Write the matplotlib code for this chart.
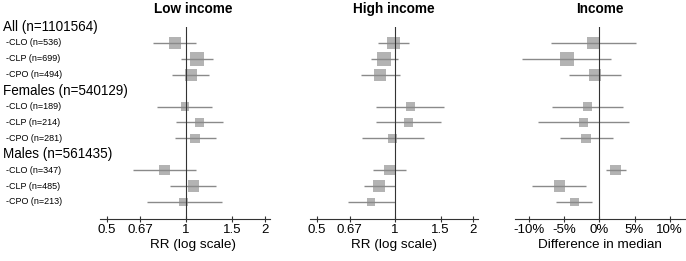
import numpy as np
import matplotlib
matplotlib.use("Agg")
from matplotlib import pyplot as plt
from matplotlib import transforms
from matplotlib.ticker import FixedLocator, FixedFormatter, NullLocator

plt.rcParams['font.family'] = ['Liberation Sans', 'DejaVu Sans']

# groups and subtypes
groups = ["All", "Females", "Males"]
group_n = [1101564, 540129, 561435]
subtypes = ["CLO", "CLP", "CPO"]
sub_n = [536, 699, 494, 189, 214, 281, 347, 485, 213]

# low income RR with CI
low_rr = [0.91, 1.10, 1.045, 0.99, 1.13, 1.085, 0.83, 1.07, 0.98]
low_lo = [0.75, 0.96, 0.89, 0.78, 0.92, 0.91, 0.63, 0.87, 0.71]
low_hi = [1.09, 1.27, 1.23, 1.26, 1.39, 1.30, 1.095, 1.30, 1.37]

# high income RR with CI
high_rr = [0.99, 0.91, 0.88, 1.15, 1.13, 0.98, 0.955, 0.87, 0.81]
high_lo = [0.865, 0.81, 0.74, 0.845, 0.85, 0.75, 0.825, 0.76, 0.66]
high_hi = [1.13, 1.03, 1.045, 1.55, 1.51, 1.29, 1.105, 1.0, 1.005]

# income, difference in median (%)
inc_d = [-0.9, -4.6, -0.7, -1.7, -2.3, -1.9, 2.3, -5.7, -3.6]
inc_lo = [-6.9, -11.0, -4.4, -6.8, -8.8, -5.7, 0.9, -9.6, -6.2]
inc_hi = [5.2, 1.7, 3.0, 3.4, 4.2, 2.0, 3.8, -1.9, -1.0]

rr_ticks = [0.5, 0.67, 1, 1.5, 2]
rr_ticklabels = ["0.5", "0.67", "1", "1.5", "2"]
pct_ticks = [-10, -5, 0, 5, 10]

W, H = 686, 261
fig = plt.figure(figsize=(W / 100, H / 100), dpi=100)

# row positions: header then three subtypes per group
header_rows = [i * 4 for i in range(len(groups))]
sub_rows = [g * 4 + k + 1 for g in range(len(groups)) for k in range(len(subtypes))]

top_px, bot_px = 27, 219
def make_ax(left_px, right_px):
    return fig.add_axes([left_px / W, 1 - bot_px / H,
                         (right_px - left_px) / W, (bot_px - top_px) / H])

ax1 = make_ax(100, 270)
ax2 = make_ax(310, 478)
ax3 = make_ax(515, 685)

sizes = [(0.72 * n ** 0.4) ** 2 for n in sub_n]
line_col = "#8a8a8a"
sq_col = "#b3b3b3"
axis_col = "#333333"

panels = [
    (ax1, low_rr, low_lo, low_hi, "Low income", "RR (log scale)", 0.547, 1),
    (ax2, high_rr, high_lo, high_hi, "High income", "RR (log scale)", 0.5, 1),
    (ax3, inc_d, inc_lo, inc_hi, "Income", "Difference in median", 0.5, 0),
]

for ax, est, lo, hi, title, xlabel, tx, ref in panels:
    ax.hlines(sub_rows, lo, hi, color=line_col, lw=1.0, zorder=3)
    ax.scatter(est, sub_rows, s=sizes, marker="s", color=sq_col, lw=0, zorder=2)
    ax.axvline(ref, color=axis_col, lw=0.8, zorder=4)
    ax.set_ylim(12.07, 0)
    ax.yaxis.set_major_locator(NullLocator())
    for side in ["left", "top", "right"]:
        ax.spines[side].set_visible(False)
    ax.spines["bottom"].set_color(axis_col)
    ax.spines["bottom"].set_linewidth(0.8)
    ax.tick_params(axis="x", direction="inout", length=4, width=0.8,
                   color=axis_col, labelsize=9.5, pad=1.5)
    ax.set_xlabel(xlabel, fontsize=9.7)
    ax.xaxis.set_label_coords(tx, -0.105)
    ax.text(tx, 1.094, title, transform=ax.transAxes, ha="center", va="center",
            fontsize=9.8, fontweight="bold")
    ax.patch.set_visible(False)

for ax in [ax1, ax2]:
    ax.set_xscale("log")
    ax.set_xlim(0.472, 2.09)
    ax.xaxis.set_major_locator(FixedLocator(rr_ticks))
    ax.xaxis.set_major_formatter(FixedFormatter(rr_ticklabels))
    ax.xaxis.set_minor_locator(NullLocator())

ax3.set_xlim(-12.05, 12.2)
ax3.xaxis.set_major_locator(FixedLocator(pct_ticks))
ax3.xaxis.set_major_formatter(FixedFormatter([f"{v}%" for v in pct_ticks]))

# row labels on the left
trans = transforms.blended_transform_factory(fig.transFigure, ax1.transData)
for g, name in enumerate(groups):
    fig.text(3 / W, header_rows[g], f"{name} (n={group_n[g]})", transform=trans,
             ha="left", va="center", fontsize=9.75)
    for k, st in enumerate(subtypes):
        i = g * 3 + k
        fig.text(6 / W, sub_rows[i], f"-{st} (n={sub_n[i]})", transform=trans,
                 ha="left", va="center", fontsize=6.5)

fig.savefig("out.png", dpi=100)
